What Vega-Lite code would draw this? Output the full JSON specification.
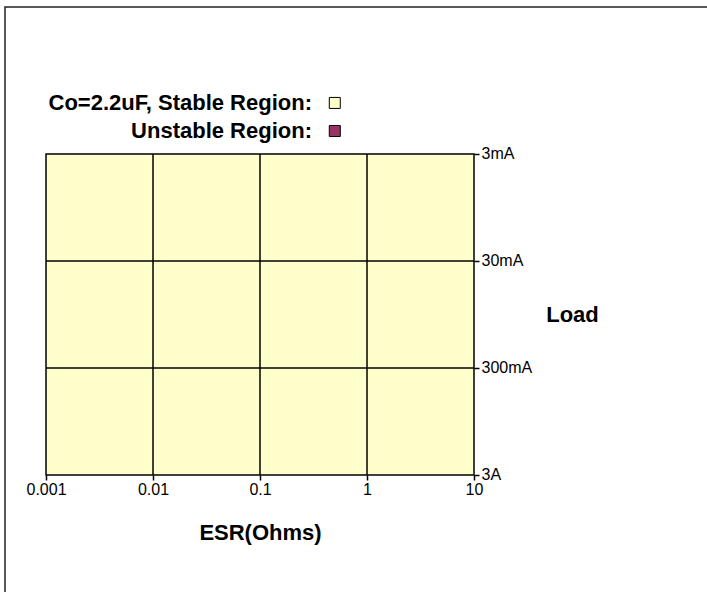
{
  "$schema": "https://vega.github.io/schema/vega-lite/v6.json",
  "width": 703,
  "height": 586,
  "autosize": {"type": "none"},
  "padding": {"left": 5, "top": 7, "right": 0, "bottom": 0},
  "background": "white",
  "config": {
    "font": "Liberation Sans",
    "view": {"stroke": "#222222", "strokeWidth": 1.5}
  },
  "data": {
    "values": [
      {"kind": "region", "esr": 0.001, "esr2": 10, "load": 3, "load2": 3000},
      {"kind": "grid", "esr": 0.01, "esr2": 0.01, "load": 3, "load2": 3000},
      {"kind": "grid", "esr": 0.1, "esr2": 0.1, "load": 3, "load2": 3000},
      {"kind": "grid", "esr": 1, "esr2": 1, "load": 3, "load2": 3000},
      {"kind": "grid", "esr": 0.001, "esr2": 10, "load": 30, "load2": 30},
      {"kind": "grid", "esr": 0.001, "esr2": 10, "load": 300, "load2": 300},
      {"kind": "label", "label": "Co=2.2uF, Stable Region:", "status": "Stable", "esr": 0.306, "load": 1.0},
      {"kind": "label", "label": "Unstable Region:", "status": "Unstable", "esr": 0.306, "load": 1.83},
      {"kind": "box", "status": "Stable", "esr": 0.5, "load": 1.0},
      {"kind": "box", "status": "Unstable", "esr": 0.5, "load": 1.83}
    ]
  },
  "encoding": {
    "x": {
      "field": "esr", "type": "quantitative",
      "scale": {"type": "log", "domain": [0.0004137, 1538], "nice": false, "zero": false},
      "axis": {
        "orient": "bottom", "offset": -118, "domain": false, "grid": false,
        "values": [0.001, 0.01, 0.1, 1, 10], "format": "~g",
        "tickColor": "#000000", "tickSize": 5, "tickWidth": 1.5,
        "labelColor": "#000000", "labelFontSize": 16, "labelPadding": 1, "labelFlush": false,
        "labelOverlap": false,
        "title": "ESR(Ohms)", "titleFontSize": 22, "titleFontWeight": "bold", "titleColor": "#000000",
        "titleX": 255, "titleY": 57, "titleAlign": "center", "titleBaseline": "middle", "titleAngle": 0
      }
    },
    "y": {
      "field": "load", "type": "quantitative",
      "scale": {"type": "log", "domain": [0.1269, 38010], "reverse": true, "nice": false, "zero": false},
      "axis": {
        "orient": "right", "offset": -234, "domain": false, "grid": false,
        "values": [3, 30, 300, 3000],
        "labelExpr": "datum.value >= 1000 ? format(datum.value / 1000, '~g') + 'A' : format(datum.value, '~g') + 'mA'",
        "tickColor": "#000000", "tickSize": 5, "tickWidth": 1.5,
        "labelColor": "#000000", "labelFontSize": 16, "labelPadding": 2, "labelFlush": false,
        "labelOverlap": false,
        "title": "Load", "titleFontSize": 22, "titleFontWeight": "bold", "titleColor": "#000000",
        "titleX": 98, "titleY": 307.5, "titleAlign": "center", "titleBaseline": "middle", "titleAngle": 0
      }
    }
  },
  "layer": [
    {
      "transform": [{"filter": "datum.kind === 'region'"}],
      "mark": {"type": "rect", "fill": "#FFFFCC", "stroke": "#000000", "strokeWidth": 1.5},
      "encoding": {"x2": {"field": "esr2"}, "y2": {"field": "load2"}}
    },
    {
      "transform": [{"filter": "datum.kind === 'grid'"}],
      "mark": {"type": "rule", "color": "#000000", "strokeWidth": 1.5},
      "encoding": {"x2": {"field": "esr2"}, "y2": {"field": "load2"}}
    },
    {
      "transform": [{"filter": "datum.kind === 'label'"}],
      "mark": {"type": "text", "align": "right", "baseline": "middle", "fontWeight": "bold", "fontSize": 22, "color": "#000000"},
      "encoding": {"text": {"field": "label"}}
    },
    {
      "transform": [{"filter": "datum.kind === 'box'"}],
      "mark": {"type": "point", "shape": "square", "filled": true, "size": 121, "stroke": "#000000", "strokeWidth": 1, "opacity": 1},
      "encoding": {
        "fill": {"field": "status", "type": "nominal", "scale": {"domain": ["Stable", "Unstable"], "range": ["#FFFFCC", "#993366"]}, "legend": null}
      }
    }
  ]
}
